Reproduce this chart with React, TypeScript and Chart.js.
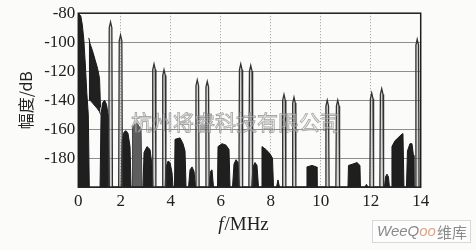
import React, { useEffect, useRef } from 'react';
import { Chart, registerables } from 'chart.js';

Chart.register(...registerables);

// ---- axis ticks ----
const xTickValues = [0.3, 2, 4, 6, 8, 10, 12, 14];
const xTickLabels = ['0', '2', '4', '6', '8', '10', '12', '14'];
const yTickValues = [-200, -180, -160, -140, -120, -100, -80];
const yTickLabels = ['', '-180', '-160', '-140', '-120', '-100', '-80'];

// ---- spectral lines (tones): centre frequency in MHz, peak level in dB ----
const toneFreqs = [1.59, 1.99, 3.33, 3.73, 5.06, 5.46, 6.8, 7.2, 8.53, 8.93, 10.26, 10.68, 12.04, 12.44, 13.86];
const toneLevels = [-86, -95, -115, -119, -126, -127, -115, -116, -136, -138, -140, -140, -135, -132, -98];

// ---- dense noise floor envelope (MHz, dB) ----
const floorFreqs = [
  0.3, 0.4, 0.46, 0.52, 0.58, 0.64, 0.7, 0.74,
  1.17, 1.21, 1.27, 1.35, 1.43, 1.51, 1.55,
  2.01, 2.05, 2.13, 2.21, 2.29, 2.37, 2.41,
  2.89, 2.93, 3.05, 3.17, 3.25, 3.29,
  3.77, 3.81, 3.89, 3.97, 4.05, 4.09,
  4.15, 4.17, 4.37, 4.49, 4.57, 4.61,
  4.71, 4.77, 4.85, 4.93, 4.99,
  5.53, 5.59, 5.65, 5.71,
  5.87, 5.89, 6.05, 6.21, 6.33, 6.37,
  6.47, 6.53, 6.61, 6.69, 6.75,
  7.23, 7.29, 7.37, 7.45, 7.51,
  7.63, 7.65, 7.81, 7.97, 8.07, 8.11,
  8.23, 8.29, 8.35,
  9.43, 9.45, 9.65, 9.83, 9.85,
  11.09, 11.11, 11.29, 11.45, 11.57, 11.59,
  11.77, 11.83, 11.89,
  12.55, 12.59, 12.65, 12.71, 12.75,
  12.83, 12.85, 12.97, 13.09, 13.21, 13.29, 13.33,
  13.43, 13.47, 13.57, 13.65, 13.71, 13.73,
];
const floorLevels = [
  -80, -82, -88, -98, -115, -135, -150, -200,
  -200, -150, -142, -140, -143, -152, -200,
  -200, -168, -162, -161, -163, -172, -200,
  -200, -176, -172, -174, -185, -200,
  -200, -186, -182, -183, -190, -200,
  -200, -167, -166, -170, -175, -200,
  -200, -188, -186, -189, -200,
  -200, -189, -188, -200,
  -200, -172, -170, -171, -174, -200,
  -200, -184, -181, -183, -200,
  -200, -186, -183, -185, -200,
  -200, -172, -174, -177, -180, -200,
  -200, -195, -200,
  -200, -186, -185, -186, -200,
  -200, -185, -184, -183, -185, -200,
  -200, -198, -200,
  -200, -193, -191, -193, -200,
  -200, -172, -168, -166, -164, -163, -200,
  -200, -175, -170, -170, -178, -200,
];

// ---- lighter grey floor patch ----
const grayFreqs = [2.45, 2.47, 2.65, 2.81, 2.85];
const grayLevels = [-200, -158, -156, -160, -200];

// ---- sloping band near 1 MHz: upper and lower edges ----
const bandFreqs = [0.72, 0.77, 0.87, 0.97, 1.07, 1.15, 1.19];
const bandTop = [-97, -101, -106, -112, -118, -125, -145];
const bandBottom = [-140, -140, -142, -144, -146, -148, -150];

const SERIF = '"Liberation Serif", "Times New Roman", "Noto Sans CJK SC", serif';
const CJK = '"Noto Sans CJK SC", "Liberation Serif", serif';

function buildTones() {
  const pts: { x: number; y: number }[] = [];
  const w = 0.075;
  toneFreqs.forEach((f, i) => {
    const L = toneLevels[i];
    pts.push({ x: f - w, y: -200 });
    pts.push({ x: f - w * 0.7, y: L - 4 });
    pts.push({ x: f, y: L });
    pts.push({ x: f + w * 0.7, y: L - 4 });
    pts.push({ x: f + w, y: -200 });
  });
  return pts;
}

const decor = {
  id: 'decor',
  beforeDraw(chart: any) {
    const { ctx, width, height } = chart;
    ctx.save();
    ctx.fillStyle = '#fbfbfa';
    ctx.fillRect(0, 0, width, height);
    ctx.restore();
  },
  afterDatasetsDraw(chart: any) {
    const { ctx, chartArea: a } = chart;
    ctx.save();
    ctx.strokeStyle = '#1e1e1e';
    ctx.lineWidth = 1.5;
    ctx.strokeRect(a.left, a.top, a.right - a.left, a.bottom - a.top);
    ctx.restore();
  },
  afterDraw(chart: any) {
    const { ctx } = chart;
    ctx.save();
    // x axis title: italic f + /MHz
    ctx.fillStyle = '#222';
    ctx.textBaseline = 'alphabetic';
    ctx.textAlign = 'left';
    ctx.font = `italic 19px ${SERIF}`;
    const fW = ctx.measureText('f').width;
    ctx.font = `19px ${SERIF}`;
    const restW = ctx.measureText('/MHz').width;
    const x0 = 243 - (fW + restW) / 2;
    ctx.font = `italic 19px ${SERIF}`;
    ctx.fillText('f', x0, 230);
    ctx.font = `19px ${SERIF}`;
    ctx.fillText('/MHz', x0 + fW + 1, 230);

    // watermark
    ctx.font = `21px ${CJK}`;
    ctx.textBaseline = 'middle';
    ctx.fillStyle = 'rgba(255,255,255,0.45)';
    ctx.fillText('杭州将睿科技有限公司', 131, 122);
    ctx.strokeStyle = 'rgba(110,110,110,0.6)';
    ctx.lineWidth = 0.9;
    ctx.strokeText('杭州将睿科技有限公司', 131, 122);

    // logo box
    ctx.fillStyle = '#fdfdfd';
    ctx.fillRect(372, 220, 98, 22);
    ctx.strokeStyle = '#d8d8d8';
    ctx.lineWidth = 1;
    ctx.strokeRect(372.5, 220.5, 98, 22);
    ctx.textBaseline = 'middle';
    ctx.font = `italic 15px "Liberation Sans", Arial, sans-serif`;
    let x = 377;
    const parts: [string, string][] = [['WeeQ', '#8a8a8a'], ['oo', '#e3a27c']];
    parts.forEach(([t, c]) => {
      ctx.fillStyle = c;
      ctx.fillText(t, x, 232);
      x += ctx.measureText(t).width;
    });
    ctx.font = `15px ${CJK}`;
    ctx.fillStyle = '#8a8a8a';
    ctx.fillText('维库', x + 1, 232);
    ctx.restore();
  },
};

export default function App() {
  const ref = useRef<HTMLCanvasElement>(null);
  useEffect(() => {
    document.body.style.margin = '0';
    const canvas = ref.current!;
    const chart = new Chart(canvas, {
      type: 'line',
      data: {
        datasets: [
          {
            label: 'tones',
            data: buildTones(),
            borderColor: '#333',
            borderWidth: 1.3,
            backgroundColor: 'rgba(140,140,140,0.35)',
            fill: 'start',
            pointRadius: 0,
          },
          {
            label: 'band top',
            data: bandFreqs.map((f, i) => ({ x: f, y: bandTop[i] })),
            borderColor: '#1a1a1a',
            borderWidth: 1,
            backgroundColor: '#202020',
            fill: '+1',
            pointRadius: 0,
          },
          {
            label: 'band bottom',
            data: bandFreqs.map((f, i) => ({ x: f, y: bandBottom[i] })),
            borderColor: '#333',
            borderWidth: 1,
            fill: false,
            pointRadius: 0,
          },
          {
            label: 'floor',
            data: floorFreqs.map((f, i) => ({ x: f, y: floorLevels[i] })),
            borderColor: '#1a1a1a',
            borderWidth: 1,
            backgroundColor: '#1f1f1f',
            fill: 'start',
            pointRadius: 0,
          },
          {
            label: 'grey floor',
            data: grayFreqs.map((f, i) => ({ x: f, y: grayLevels[i] })),
            borderColor: '#444',
            borderWidth: 1,
            backgroundColor: '#5e5e5e',
            fill: 'start',
            pointRadius: 0,
          },
        ],
      },
      options: {
        animation: false,
        responsive: false,
        maintainAspectRatio: false,
        events: [],
        layout: { padding: { left: 0, top: 11.4, right: 55.3, bottom: 0 } },
        plugins: { legend: { display: false }, tooltip: { enabled: false } },
        elements: { point: { radius: 0 }, line: { tension: 0 } },
        scales: {
          x: {
            type: 'linear',
            min: 0.3,
            max: 14,
            afterBuildTicks: (s: any) => {
              s.ticks = xTickValues.map((v) => ({ value: v }));
            },
            afterFit: (s: any) => {
              s.height = 62.8;
            },
            ticks: {
              callback: (_v: any, i: number) => xTickLabels[i],
              font: { family: SERIF, size: 17 },
              color: '#222',
              padding: 4,
              autoSkip: false,
              maxRotation: 0,
            },
            grid: {
              drawTicks: false,
              lineWidth: 1,
              color: (c: any) =>
                c.index === 0 || c.index === xTickValues.length - 1 ? 'rgba(0,0,0,0)' : '#9a9a9a',
            },
            border: { display: false, dash: [1, 2] },
          },
          y: {
            type: 'linear',
            min: -200,
            max: -80,
            afterBuildTicks: (s: any) => {
              s.ticks = yTickValues.map((v) => ({ value: v }));
            },
            afterFit: (s: any) => {
              s.width = 78.3;
            },
            ticks: {
              callback: (_v: any, i: number) => yTickLabels[i],
              font: { family: SERIF, size: 17 },
              color: '#222',
              padding: 3,
              autoSkip: false,
            },
            grid: {
              drawTicks: false,
              lineWidth: 1,
              color: (c: any) =>
                c.index === 0 || c.index === yTickValues.length - 1 ? 'rgba(0,0,0,0)' : '#8e8e8e',
            },
            border: { display: false },
            title: {
              display: true,
              text: '幅度/dB',
              font: { family: CJK, size: 16 },
              color: '#222',
              padding: { top: 16, bottom: 0 },
            },
          },
        },
      },
      plugins: [decor],
    } as any);
    return () => chart.destroy();
  }, []);
  return <canvas ref={ref} width={476} height={250} style={{ display: 'block' }} />;
}
